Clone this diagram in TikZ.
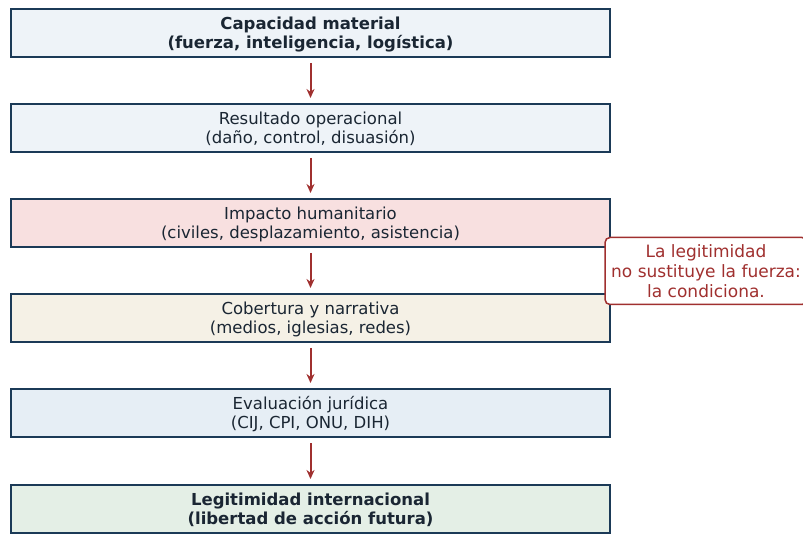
\documentclass[tikz,border=0pt]{standalone}
\usepackage{fontspec}
\setmainfont{DejaVu Sans}
\usetikzlibrary{arrows.meta}
\definecolor{edge}{HTML}{1B3A57}
\definecolor{txt}{HTML}{1A2633}
\definecolor{arr}{HTML}{A0302F}
\definecolor{fA}{HTML}{EEF3F8}
\definecolor{fB}{HTML}{F8E0E0}
\definecolor{fC}{HTML}{F5F1E6}
\definecolor{fD}{HTML}{E6EEF5}
\definecolor{fE}{HTML}{E4EFE6}
\newcommand{\twolines}[2]{\raisebox{-2.5pt}[\height][\depth]{\begin{tabular}{@{}c@{}}#1\\#2\end{tabular}}}
\tikzset{
  stage/.style={draw=edge, line width=2pt, minimum width=599pt, minimum height=48pt,
    inner sep=0pt, text=txt, font=\fontsize{16.5}{19}\selectfont},
  flow/.style={draw=arr, line width=2pt, -{Stealth[length=9pt,width=8pt]}},
  note/.style={draw=arr, line width=1.5pt, fill=white, rounded corners=5pt, text=arr,
    minimum width=202pt, minimum height=67pt, align=center, inner sep=0pt,
    font=\fontsize{17}{20}\selectfont}
}
\begin{document}
\begin{tikzpicture}[x=1pt,y=-1pt]
\useasboundingbox (0,0) rectangle (803,534);
\node[stage, fill=fA] (s1) at (310.5,33) {\twolines{\textbf{Capacidad material}}{\textbf{(fuerza, inteligencia, logística)}}};
\node[stage, fill=fA] (s2) at (310.5,128) {\twolines{Resultado operacional}{(daño, control, disuasión)}};
\node[stage, fill=fB] (s3) at (310.5,223) {\twolines{Impacto humanitario}{(civiles, desplazamiento, asistencia)}};
\node[stage, fill=fC] (s4) at (310.5,318) {\twolines{Cobertura y narrativa}{(medios, iglesias, redes)}};
\node[stage, fill=fD] (s5) at (310.5,413) {\twolines{Evaluación jurídica}{(CIJ, CPI, ONU, DIH)}};
\node[stage, fill=fE] (s6) at (310.5,509) {\twolines{\textbf{Legitimidad internacional}}{\textbf{(libertad de acción futura)}}};
\draw[flow] ([yshift=-5pt]s1.south) -- ([yshift=5pt]s2.north);
\draw[flow] ([yshift=-5pt]s2.south) -- ([yshift=5pt]s3.north);
\draw[flow] ([yshift=-5pt]s3.south) -- ([yshift=5pt]s4.north);
\draw[flow] ([yshift=-5pt]s4.south) -- ([yshift=5pt]s5.north);
\draw[flow] ([yshift=-5pt]s5.south) -- ([yshift=5pt]s6.north);
\node[note] (n) at (706,271) {La legitimidad\\no sustituye la fuerza:\\la condiciona.};
\end{tikzpicture}
\end{document}
